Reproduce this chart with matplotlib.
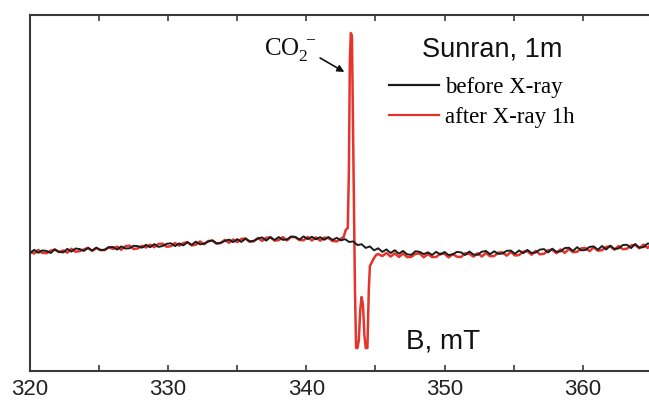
import numpy as np
import matplotlib
matplotlib.use("Agg")
from matplotlib import pyplot as plt
from matplotlib.lines import Line2D

# field sweep (mT), sampled every 0.3 mT
field = np.round(np.arange(320.0, 365.01, 0.3), 2)

# before X-ray (black), one value per field point
before = [
    -3.5, 0.2, -2.8, -0.4, -1.0, -3.0, 0.6, -1.9, -2.4, 1.1,
    -1.6, 1.5, 0.9, -0.9, 2.0, -0.5, 2.4, -0.2, 0.3, 2.6,
    3.1, 0.4, 3.6, 1.5, 1.7, 4.2, 3.9, 2.3, 5.2, 2.8,
    5.9, 3.1, 4.0, 6.2, 6.7, 3.9, 6.6, 4.6, 7.8, 5.1,
    8.3, 5.7, 6.3, 8.6, 9.4, 6.6, 7.2, 9.0, 10.4, 7.9,
    10.8, 8.1, 11.3, 8.6, 9.2, 11.5, 12.6, 9.4, 12.8, 10.0,
    12.9, 10.1, 10.6, 13.4, 13.1, 10.4, 13.6, 10.9, 13.2, 10.7,
    12.8, 10.2, 12.9, 10.0, 12.2, 9.6, 10.9, 8.0, 8.6, 4.9,
    5.8, 2.1, 3.6, -0.3, 1.7, -1.9, 0.6, -3.0, -0.2, -3.7,
    -0.9, -4.4, -4.8, -1.2, -1.9, -4.1, -2.3, -5.0, -1.8, -4.6,
    -2.0, -5.1, -4.3, -1.9, -2.4, -5.0, -1.5, -4.6, -4.8, -1.7,
    -1.0, -4.2, -1.3, -3.9, -3.5, -0.8, -0.6, -3.7, -0.5, -3.2,
    0.1, -3.0, -2.5, 0.4, 0.9, -2.4, 1.3, -1.8, -1.4, 1.9,
    2.3, -0.9, 2.8, -0.4, 0.0, 3.1, 3.6, 0.2, 4.0, 0.5,
    4.4, 1.0, 1.6, 4.9, 5.3, 1.9, 6.0, 2.4, 2.8, 6.4, 6.6,
]

# after X-ray 1h (red): baseline left of the line, CO2- line, baseline right
after_left = [
    -1.0, -3.6, 0.1, -2.9, -3.2, -0.6, 0.4, -2.1, -0.5, -2.6,
    1.2, -1.8, -1.1, 0.6, 2.2, -0.9, 1.8, 0.1, -0.2, 2.9,
    1.1, 3.4, 0.2, 3.8, 4.4, 1.0, 1.6, 4.1, 2.5, 5.3,
    2.8, 6.1, 6.3, 3.2, 3.8, 7.0, 4.3, 6.9, 7.8, 4.6,
    5.3, 8.6, 5.8, 8.9, 9.6, 6.4, 6.9, 10.1, 7.2, 10.5,
    7.9, 11.1, 11.6, 8.2, 8.7, 12.0, 9.1, 12.2, 12.7, 9.4,
    9.8, 12.9, 9.6, 13.1, 12.8, 10.0, 9.7, 13.0, 9.5, 12.6,
    9.3, 12.4, 11.9, 9.0, 8.6, 11.3,
]
line_field = [342.7, 342.85, 343.0, 343.08, 343.15, 343.22, 343.3, 343.38,
              343.45, 343.52, 343.6, 343.7, 343.8, 343.9, 344.0, 344.1,
              344.2, 344.3, 344.42, 344.52, 344.6, 344.75, 344.9, 345.05, 345.2]
line_signal = [13, 20, 22, 80, 190, 217, 214, 120,
               30, -40, -98, -98, -90, -60, -47, -55,
               -85, -98, -98, -40, -16, -12, -8, -5, -4]
after_right = [
    -6.1, -2.9, -6.6, -3.3, -7.0,
    -3.5, -7.2, -6.8, -3.9, -3.4, -7.3, -4.0, -7.1, -6.9, -3.6,
    -3.8, -7.4, -4.1, -6.7, -7.0, -3.3, -3.9, -6.6, -3.2, -6.5,
    -2.9, -6.3, -6.0, -2.6, -2.4, -5.7, -1.9, -5.5, -5.0, -1.6,
    -1.2, -4.7, -0.8, -4.3, -3.8, -0.3, 0.2, -3.3, 0.6, -2.9,
    1.0, -2.2, -1.8, 1.6, 2.0, -1.2, 2.6, -0.7, -0.2, 3.1,
    3.5, 0.3, 4.0, 0.8, 1.2, 4.6, 5.0, 1.7, 5.4, 2.1, 5.9,
]

x_after = np.concatenate([field[:len(after_left)], line_field, field[-len(after_right):]])
y_after = np.concatenate([after_left, line_signal, after_right])

RED = "#e5342c"
BLACK = "#1c1c1c"
SPINE = "#3a3a3a"

plt.rcParams["mathtext.fontset"] = "custom"
plt.rcParams["mathtext.rm"] = "Liberation Serif"
plt.rcParams["mathtext.it"] = "Liberation Serif:italic"

fig = plt.figure(figsize=(6.49, 4.01), dpi=100)
ax = fig.add_axes([30 / 649, 30 / 401, 619 / 649, 356 / 401])

ax.plot(x_after, y_after, color=RED, lw=1.8, zorder=2)
ax.plot(field, before, color=BLACK, lw=1.4, zorder=3)

ax.set_xlim(320, 364.8)
ax.set_ylim(-121, 235)

ax.spines["right"].set_visible(False)
for s in ("left", "top", "bottom"):
    ax.spines[s].set_linewidth(1.5)
    ax.spines[s].set_color(SPINE)

ax.set_xticks([320, 330, 340, 350, 360])
ax.set_xticks([325, 335, 345, 355], minor=True)
ax.tick_params(axis="x", which="both", direction="in", top=True, bottom=True,
               length=4.5, width=1.2, color=SPINE, pad=6)
ax.tick_params(axis="x", labelsize=16, labelcolor="#222222")
ax.set_yticks([])
for lab in ax.get_xticklabels():
    lab.set_family("Liberation Sans")

# annotations
ax.text(336.95, 195, r"$\mathrm{CO}_2^{\ -}$", fontsize=18, color="#111111")
ax.annotate("", xy=(342.75, 178), xytext=(341.0, 192),
            arrowprops=dict(arrowstyle="-|>", color="#111111", lw=1.2,
                            mutation_scale=10, shrinkA=0, shrinkB=0))
ax.text(348.4, 193, "Sunran, 1m", fontsize=19.5, family="Liberation Sans",
        color="#111111")
ax.text(347.2, -99, "B, mT", fontsize=20, family="Liberation Sans",
        color="#111111")

handles = [Line2D([], [], color=BLACK, lw=1.6), Line2D([], [], color=RED, lw=1.6)]
ax.legend(handles, ["before X-ray", "after X-ray 1h"], loc="upper left",
          bbox_to_anchor=(0.561, 0.857), frameon=False, borderpad=0,
          handlelength=2.2, handletextpad=0.26, labelspacing=0.37,
          prop={"family": "Liberation Serif", "size": 16.5})

fig.savefig("out.png", dpi=100)
